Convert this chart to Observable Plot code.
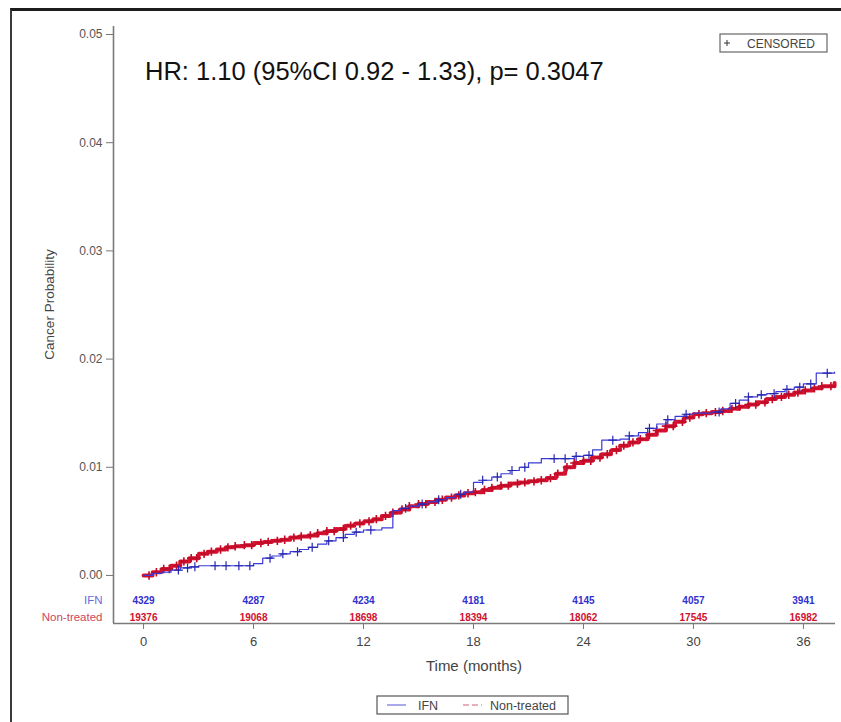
<!DOCTYPE html>
<html>
<head>
<meta charset="utf-8">
<script src="https://cdn.jsdelivr.net/npm/d3@7"></script>
<script src="https://cdn.jsdelivr.net/npm/@observablehq/plot@0.6"></script>
<style>
  html, body { margin: 0; padding: 0; background: #fff; }
  #wrap { position: relative; width: 841px; height: 722px; overflow: hidden; }
  #frame { position: absolute; left: 10px; top: 8px; width: 840px; height: 720px;
           border-top: 3px solid #1c1c1c; border-left: 2px solid #3a3a3a; pointer-events: none; }
</style>
</head>
<body>
<div id="wrap"><div id="frame"></div></div>
<script>
// Cumulative cancer probability by month, IFN group
const ifnMonths = [0, 0.5, 1, 1.5, 2, 2.5, 3, 5.5, 6, 6.5, 7, 7.5, 8, 8.5, 9, 9.5, 10, 10.5, 11, 11.5, 12, 13, 13.6, 14, 14.5, 15, 15.5, 16, 16.5, 17, 17.5, 18, 18.5, 19, 19.5, 20, 20.5, 21, 21.7, 23.5, 24, 24.5, 25, 26, 26.5, 27, 27.5, 28, 28.5, 29, 29.5, 30, 31, 31.5, 32, 32.5, 33, 33.5, 34, 34.5, 35, 35.5, 36, 36.7, 37.7];
const ifnProb   = [0, 0.0002, 0.0003, 0.0005, 0.0007, 0.0008, 0.0009, 0.0009, 0.0011, 0.0016, 0.0018, 0.0020, 0.0022, 0.0024, 0.0026, 0.0029, 0.0032, 0.0035, 0.0038, 0.0040, 0.0042, 0.0044, 0.0060, 0.0062, 0.0064, 0.0066, 0.0068, 0.0070, 0.0072, 0.0075, 0.0077, 0.0086, 0.0088, 0.0091, 0.0094, 0.0097, 0.0100, 0.0104, 0.0108, 0.0110, 0.0111, 0.0116, 0.0125, 0.0126, 0.0129, 0.0132, 0.0136, 0.0140, 0.0144, 0.0147, 0.0149, 0.0150, 0.0151, 0.0154, 0.0159, 0.0162, 0.0165, 0.0167, 0.0168, 0.0170, 0.0172, 0.0174, 0.0177, 0.0187, 0.0188];

// Cumulative cancer probability by month, non-treated group
const nonMonths = [0, 0.5, 1, 1.5, 2, 2.5, 3, 3.5, 4, 4.5, 5, 5.5, 6, 6.5, 7, 7.5, 8, 8.5, 9, 9.5, 10, 10.5, 11, 11.5, 12, 12.5, 13, 13.5, 14, 14.5, 15, 15.5, 16, 16.5, 17, 17.5, 18, 18.5, 19, 19.5, 20, 20.5, 21, 21.5, 22, 22.5, 23, 23.5, 24, 24.5, 25, 25.5, 26, 26.5, 27, 27.5, 28, 28.5, 29, 29.5, 30, 30.5, 31, 31.5, 32, 32.5, 33, 33.5, 34, 34.5, 35, 35.5, 36, 36.5, 37, 37.7];
const nonProb   = [0, 0.0003, 0.0006, 0.0009, 0.0013, 0.0016, 0.0020, 0.0022, 0.0024, 0.0026, 0.0027, 0.0028, 0.0030, 0.0031, 0.0032, 0.0033, 0.0035, 0.0036, 0.0037, 0.0039, 0.0041, 0.0043, 0.0046, 0.0048, 0.0050, 0.0052, 0.0055, 0.0058, 0.0061, 0.0064, 0.0066, 0.0068, 0.0070, 0.0072, 0.0074, 0.0076, 0.0077, 0.0079, 0.0081, 0.0083, 0.0085, 0.0086, 0.0087, 0.0088, 0.0090, 0.0094, 0.0100, 0.0104, 0.0106, 0.0109, 0.0112, 0.0116, 0.0120, 0.0123, 0.0126, 0.0130, 0.0134, 0.0138, 0.0142, 0.0146, 0.0149, 0.0150, 0.0151, 0.0152, 0.0154, 0.0156, 0.0158, 0.0160, 0.0163, 0.0165, 0.0167, 0.0169, 0.0171, 0.0173, 0.0175, 0.0178];

// Censoring times (months)
const ifnCensor = [1.9, 2.4, 2.8, 3.9, 4.5, 5.2, 5.8, 6.9, 7.6, 8.4, 9.2, 10.1, 10.9, 11.6, 12.4, 14.3, 15.2, 16.1, 17.3, 18.5, 19.3, 20.1, 20.8, 22.4, 23.0, 23.6, 24.3, 25.6, 26.5, 27.6, 28.6, 29.6, 31.4, 32.3, 33.0, 33.7, 34.4, 35.1, 35.8, 36.4, 37.3];
const nonCensor = [0.3, 0.7, 1.1, 1.4, 1.8, 2.2, 2.6, 2.9, 3.3, 3.7, 4.2, 4.6, 5.0, 5.5, 5.9, 6.4, 6.8, 7.3, 7.7, 8.2, 8.6, 9.1, 9.5, 10.0, 10.4, 10.9, 11.3, 11.8, 12.3, 12.7, 13.2, 13.6, 14.1, 14.5, 15.0, 15.4, 15.9, 16.3, 16.8, 17.2, 17.7, 18.1, 18.6, 19.0, 19.5, 19.9, 20.4, 20.8, 21.3, 21.7, 22.2, 22.6, 23.1, 23.5, 24.0, 24.4, 24.9, 25.3, 25.8, 26.2, 26.7, 27.1, 27.6, 28.0, 28.5, 28.9, 29.4, 29.8, 30.3, 30.7, 31.2, 31.6, 32.1, 32.5, 33.0, 33.4, 33.9, 34.3, 34.8, 35.2, 35.7, 36.1, 36.6, 37.0, 37.5];

// Number at risk
const xTicks = [0, 6, 12, 18, 24, 30, 36];
const yTicks = [0, 0.01, 0.02, 0.03, 0.04, 0.05];
const atRiskIFN = [4329, 4287, 4234, 4181, 4145, 4057, 3941];
const atRiskNon = [19376, 19068, 18698, 18394, 18062, 17545, 16982];

const groups = ["IFN", "Non-treated"];
const hrText = "HR: 1.10 (95%CI 0.92 - 1.33), p= 0.3047";

const BLUE = "#3a3ad8", BLUE_DARK = "#2626b0";
const RED = "#d5122f", RED_DARK = "#c00c28";
const FONT = "'Liberation Sans', Arial, Helvetica, sans-serif";

const ifn = ifnMonths.map((m, i) => ({month: m, prob: ifnProb[i]}));
const non = nonMonths.map((m, i) => ({month: m, prob: nonProb[i]}));

// value of a step curve at time t
function stepAt(series, t) {
  const i = d3.bisector(d => d.month).right(series, t) - 1;
  return series[Math.max(0, i)].prob;
}
const ifnMarks = ifnCensor.map(t => ({month: t, prob: stepAt(ifn, t)}));
const nonMarks = nonCensor.map(t => ({month: t, prob: stepAt(non, t)}));

const xDomain = [-1.64, 37.75];
const yDomain = [-0.00444, 0.05074];
const rowIFN = -0.00231, rowNon = -0.00389;

const riskRows = xTicks.map((t, i) => ({month: t, ifn: String(atRiskIFN[i]), non: String(atRiskNon[i])}));

const chart = Plot.plot({
  width: 841,
  height: 722,
  marginLeft: 113,
  marginRight: 6,
  marginTop: 26,
  marginBottom: 99,
  style: {fontFamily: FONT, background: "transparent", overflow: "visible"},
  x: {domain: xDomain},
  y: {domain: yDomain},
  marks: [
    // axis lines
    Plot.ruleX([xDomain[0]], {stroke: "#7a7a7a", strokeWidth: 1.6}),
    Plot.ruleY([yDomain[0]], {stroke: "#7a7a7a", strokeWidth: 1.6}),
    Plot.axisY({ticks: yTicks, tickFormat: ".2f", label: null, tickSize: 7, tickPadding: 4,
                fontSize: 12, color: "#555", stroke: "#777"}),
    Plot.axisX({ticks: xTicks, tickFormat: d => String(d), label: null, tickSize: 6, tickPadding: 7,
                fontSize: 13, color: "#444", stroke: "#777"}),
    // curves
    Plot.line(non, {x: "month", y: "prob", curve: "step-after", stroke: RED, strokeWidth: 4,
                    strokeDasharray: "9,2"}),
    Plot.dot(nonMarks, {x: "month", y: "prob", symbol: "plus", r: 2.8, stroke: RED_DARK, strokeWidth: 1.6}),
    Plot.line(ifn, {x: "month", y: "prob", curve: "step-after", stroke: BLUE, strokeWidth: 1.2}),
    Plot.dot(ifnMarks, {x: "month", y: "prob", symbol: "plus", r: 3, stroke: BLUE_DARK, strokeWidth: 1.2}),
    // numbers at risk
    Plot.text(riskRows, {x: "month", y: () => rowIFN, text: "ifn", fill: "#3030d0", fontSize: 10, fontWeight: "bold"}),
    Plot.text(riskRows, {x: "month", y: () => rowNon, text: "non", fill: "#d01030", fontSize: 10, fontWeight: "bold"}),
    Plot.text([groups[0]], {x: xDomain[0], y: rowIFN, text: d => d, textAnchor: "end", dx: -11, fill: "#6b6be0", fontSize: 11.5}),
    Plot.text([groups[1]], {x: xDomain[0], y: rowNon, text: d => d, textAnchor: "end", dx: -11, fill: "#d2445e", fontSize: 11.5})
  ]
});

document.getElementById("wrap").prepend(chart);

const svg = d3.select(chart);
const yS = chart.scale("y"), xS = chart.scale("x");

function label(g, x, y, size, fill, anchor, txt) {
  return g.append("text").attr("x", x).attr("y", y)
    .attr("text-anchor", anchor).attr("font-size", size).attr("fill", fill)
    .attr("font-family", FONT).text(txt);
}

// hazard ratio annotation
label(svg, 145, 80, 25.5, "#111", "start", hrText);

// y axis title, centred on the probability range
svg.append("text")
  .attr("transform", `translate(54,${(yS.apply(0) + yS.apply(0.05)) / 2}) rotate(-90)`)
  .attr("text-anchor", "middle").attr("font-size", 13.5).attr("fill", "#444")
  .attr("font-family", FONT).text("Cancer Probability");

// x axis title
label(svg, (xS.apply(xDomain[0]) + xS.apply(xDomain[1])) / 2, 671, 15, "#444", "middle", "Time (months)");

// censoring key
const ck = svg.append("g").attr("transform", "translate(720,34)");
ck.append("rect").attr("width", 107).attr("height", 18).attr("fill", "#fff")
  .attr("stroke", "#666").attr("stroke-width", 1.2);
ck.append("path").attr("d", "M4,9h6M7,6v6").attr("stroke", "#333").attr("stroke-width", 1);
label(ck, 27, 13.5, 12, "#444", "start", "CENSORED");

// series legend
const lg = svg.append("g").attr("transform", "translate(377,696)");
lg.append("rect").attr("width", 191).attr("height", 18).attr("fill", "#fff")
  .attr("stroke", "#555").attr("stroke-width", 1.2);
lg.append("line").attr("x1", 10).attr("x2", 29).attr("y1", 9).attr("y2", 9)
  .attr("stroke", "#7070e0").attr("stroke-width", 1.2);
label(lg, 41, 13.5, 12.5, "#444", "start", groups[0]);
lg.append("line").attr("x1", 86).attr("x2", 105).attr("y1", 9).attr("y2", 9)
  .attr("stroke", "#d0607a").attr("stroke-width", 1.2).attr("stroke-dasharray", "6,3");
label(lg, 113, 13.5, 12.5, "#444", "start", groups[1]);
</script>
</body>
</html>
